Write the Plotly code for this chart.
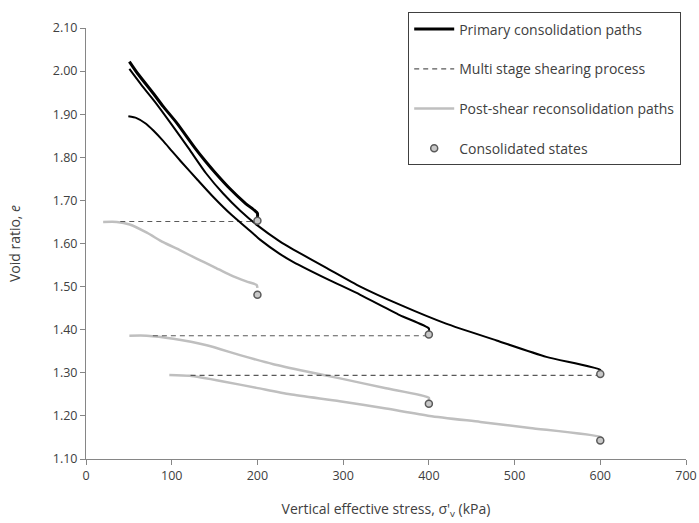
import plotly.graph_objects as go

# ---- Data ----
# Primary consolidation paths (three black curves)
p1_x = [50.6, 60, 78.6, 90, 105.8, 127, 138.9, 150, 168, 185, 197, 200, 200]
p1_y = [2.022, 1.995, 1.948, 1.918, 1.880, 1.822, 1.792, 1.766, 1.727, 1.695, 1.676, 1.670, 1.658]
p2_x = [50.6, 65, 80, 100, 120, 140, 160, 180, 200, 226, 242, 281, 320, 366, 420, 479, 537, 600, 600]
p2_y = [2.005, 1.967, 1.930, 1.876, 1.820, 1.763, 1.716, 1.676, 1.642, 1.605, 1.586, 1.543,
        1.500, 1.458, 1.414, 1.375, 1.337, 1.307, 1.301]
p3_x = [49.4, 59, 70, 78.6, 90, 100, 110, 130, 148.5, 170, 187.5, 203, 226, 242, 281, 320, 366, 400, 400]
p3_y = [1.895, 1.891, 1.878, 1.862, 1.838, 1.815, 1.792, 1.748, 1.708, 1.666, 1.636, 1.609,
        1.576, 1.557, 1.518, 1.481, 1.434, 1.403, 1.395]

# Multi stage shearing process (dashed horizontal lines)
d1_x = [40, 200]
d1_y = [1.651, 1.651]
d2_x = [78, 400]
d2_y = [1.386, 1.386]
d3_x = [122, 600]
d3_y = [1.294, 1.294]

# Post-shear reconsolidation paths (grey curves)
g1_x = [20, 36, 51, 71, 90, 110, 129, 149, 168, 187, 199, 200]
g1_y = [1.650, 1.650, 1.644, 1.625, 1.603, 1.584, 1.565, 1.546, 1.527, 1.512, 1.504, 1.497]
g2_x = [50.6, 70.8, 101.9, 140.8, 179.7, 218.6, 257.5, 296.4, 350, 400, 400]
g2_y = [1.386, 1.386, 1.379, 1.364, 1.341, 1.320, 1.303, 1.287, 1.264, 1.242, 1.236]
g3_x = [97.2, 121, 160, 199, 238, 296, 350, 401, 460, 518, 600, 600]
g3_y = [1.295, 1.293, 1.280, 1.265, 1.250, 1.234, 1.217, 1.200, 1.186, 1.172, 1.151, 1.148]

# Consolidated states
cs_x = [200, 200, 400, 400, 600, 600]
cs_y = [1.653, 1.481, 1.389, 1.228, 1.297, 1.143]

x_ticks = [0, 100, 200, 300, 400, 500, 600, 700]
y_ticks = [1.10, 1.20, 1.30, 1.40, 1.50, 1.60, 1.70, 1.80, 1.90, 2.00, 2.10]

FONT = "Open Sans"
TXT = "#404040"
BLACK = "#000000"
GREY = "#bfbfbf"
DASH = "#595959"

fig = go.Figure()

# grey post-shear paths
for i, (gx, gy) in enumerate([(g1_x, g1_y), (g2_x, g2_y), (g3_x, g3_y)]):
    fig.add_trace(go.Scatter(x=gx, y=gy, mode="lines",
                             line=dict(color=GREY, width=2.5, shape="spline", smoothing=0.6),
                             name="Post-shear reconsolidation paths",
                             legendgroup="g3", legendrank=3, showlegend=(i == 0)))

# dashed shearing lines
for i, (dx, dy) in enumerate([(d1_x, d1_y), (d2_x, d2_y), (d3_x, d3_y)]):
    fig.add_trace(go.Scatter(x=dx, y=dy, mode="lines",
                             line=dict(color=DASH, width=1.2, dash="5px,4px"),
                             name="Multi stage shearing process",
                             legendgroup="g2", legendrank=2, showlegend=(i == 0)))

# primary consolidation paths
for i, (px, py, w) in enumerate([(p1_x, p1_y, 3.0), (p2_x, p2_y, 2), (p3_x, p3_y, 2)]):
    fig.add_trace(go.Scatter(x=px, y=py, mode="lines",
                             line=dict(color=BLACK, width=w, shape="spline", smoothing=0.6),
                             name="Primary consolidation paths",
                             legendgroup="g1", legendrank=1, showlegend=(i == 0)))

# consolidated states
fig.add_trace(go.Scatter(x=cs_x, y=cs_y, mode="markers",
                         marker=dict(symbol="circle", size=7, color="#c8c8c8",
                                     line=dict(color="#595959", width=1.5)),
                         name="Consolidated states",
                         legendgroup="g4", legendrank=4))

axis_common = dict(showgrid=False, zeroline=False, showline=True,
                   linecolor="#868686", linewidth=1, ticks="outside",
                   ticklen=5, tickcolor="#868686", mirror=False, automargin=False,
                   tickfont=dict(family=FONT, size=12.5, color=TXT))

fig.update_xaxes(range=[0, 700], tickvals=x_ticks, ticktext=[str(v) for v in x_ticks],
                 title=dict(text="Vertical effective stress, σ'<sub>v</sub> (kPa)",
                            font=dict(family=FONT, size=14, color=TXT), standoff=21),
                 **axis_common)
fig.update_yaxes(range=[1.10, 2.10], tickvals=y_ticks, ticktext=[f"{v:.2f}" for v in y_ticks],
                 title=dict(text="Void ratio, <i>e</i>",
                            font=dict(family=FONT, size=14, color=TXT), standoff=28),
                 **axis_common)

fig.update_layout(
    width=699, height=523,
    margin=dict(l=86, r=13, t=20, b=64),
    paper_bgcolor="white", plot_bgcolor="white",
    font=dict(family=FONT, color=TXT),
    legend=dict(x=0.537, y=1.036, xanchor="left", yanchor="top",
                bgcolor="white", bordercolor="#404040", borderwidth=1,
                font=dict(family=FONT, size=14, color=TXT),
                tracegroupgap=18.5, traceorder="grouped", itemwidth=40),
)

fig.write_html("out.html")
